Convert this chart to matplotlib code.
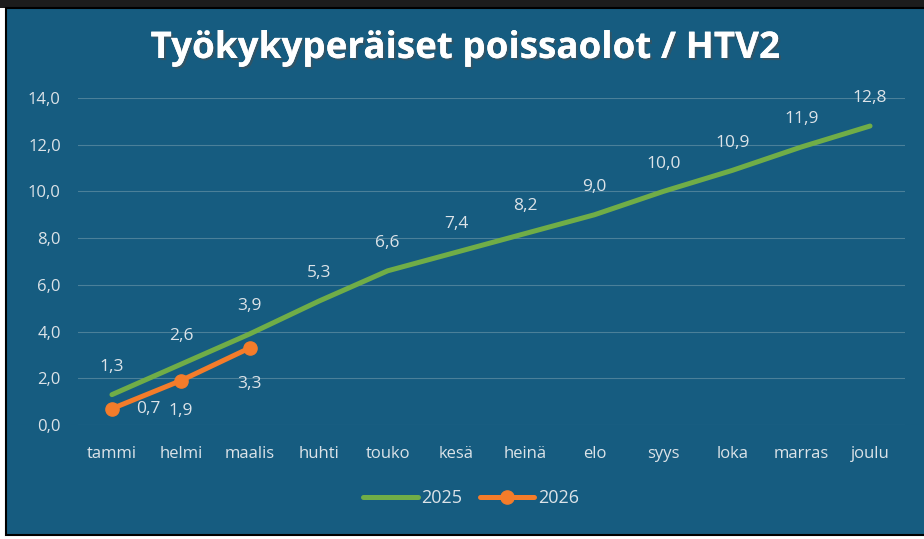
import matplotlib.pyplot as plt
from matplotlib.patches import Rectangle
import matplotlib.patheffects as pe

months = ['tammi', 'helmi', 'maalis', 'huhti', 'touko', 'kesä',
          'heinä', 'elo', 'syys', 'loka', 'marras', 'joulu']
v2025 = [1.3, 2.6, 3.9, 5.3, 6.6, 7.4, 8.2, 9.0, 10.0, 10.9, 11.9, 12.8]
v2026 = [0.7, 1.9, 3.3]
yticks = [0, 2, 4, 6, 8, 10, 12, 14]

BG = '#165c80'
TXT = '#dce3e8'
GREEN = '#70ad47'
ORANGE = '#f47c2a'

plt.rcParams['font.family'] = ['Open Sans', 'DejaVu Sans']

fig = plt.figure(figsize=(9.24, 5.39), dpi=100)
fig.patch.set_facecolor('white')
# dark strip on top and the blue panel with a black frame
fig.patches.append(Rectangle((0, 1 - 8 / 539), 1, 8 / 539, transform=fig.transFigure,
                             facecolor='#1c1c1c', edgecolor='none', zorder=-2))
fig.patches.append(Rectangle((6 / 924, 4 / 539), 1, 1 - 12 / 539, transform=fig.transFigure,
                             facecolor=BG, edgecolor='black', linewidth=1.5, zorder=-2))

ax = fig.add_axes([77.5 / 924, 1 - 425 / 539, 827 / 924, 327 / 539])
ax.set_facecolor('none')
x = list(range(len(months)))

ax.plot(x, v2025, color=GREEN, linewidth=3.6, solid_capstyle='round', label='2025', zorder=3)
ax.plot(x[:len(v2026)], v2026, color=ORANGE, linewidth=3.6, marker='o', markersize=9.5,
        solid_capstyle='round', label='2026', zorder=4)

for i, v in enumerate(v2025):
    ax.annotate(f'{v:.1f}'.replace('.', ','), (i, v), xytext=(0, 20), textcoords='offset points',
                ha='center', va='center', color=TXT, fontsize=12.5)
offs = [(26, 0), (0, -22), (0, -26)]
for i, v in enumerate(v2026):
    ax.annotate(f'{v:.1f}'.replace('.', ','), (i, v), xytext=offs[i], textcoords='offset points',
                ha='center', va='center', color=TXT, fontsize=12.5)

ax.set_xlim(-0.5, len(months) - 0.5)
ax.set_ylim(0, 14)
ax.set_yticks(yticks)
ax.set_yticklabels([f'{t:.1f}'.replace('.', ',') for t in yticks])
ax.set_xticks(x)
ax.set_xticklabels(months)
ax.tick_params(axis='both', length=0, colors=TXT, labelsize=12)
ax.tick_params(axis='y', pad=12)
ax.tick_params(axis='x', pad=15)
ax.grid(axis='y', color='#4b8099', linewidth=0.8)
for s in ax.spines.values():
    s.set_visible(False)

fig.text(0.503, 1 - 48 / 539, 'Työkykyperäiset poissaolot / HTV2', ha='center', va='center',
         color='white', fontsize=26.5, fontweight='bold',
         path_effects=[pe.withSimplePatchShadow(offset=(1.5, -1.5), alpha=0.5), pe.Normal()])

leg = fig.legend(loc='center', bbox_to_anchor=(0.51, 1 - 498 / 539), ncol=2, frameon=False,
                 fontsize=13, handlelength=3.0, handletextpad=0.2, columnspacing=1.0)
for t in leg.get_texts():
    t.set_color(TXT)

fig.savefig('out.png', dpi=100, facecolor=fig.get_facecolor())
